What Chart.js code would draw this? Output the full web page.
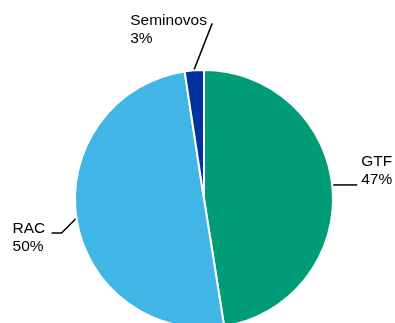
<!DOCTYPE html>
<html>
<head>
<meta charset="utf-8">
<script src="https://cdn.jsdelivr.net/npm/chart.js@4"></script>
<style>
  html, body { margin: 0; padding: 0; background: #fff; overflow: hidden; }
  #wrap { width: 395px; height: 335px; position: relative; }
</style>
</head>
<body>
<div id="wrap"><canvas id="pieChart"></canvas></div>
<script>
const categories = ['GTF', 'RAC', 'Seminovos'];
const shares = [47.5, 50.1, 2.4];
const shareLabels = ['47%', '50%', '3%'];
const sliceColors = ['#009B77', '#41B6E6', '#0033A0'];

// where the leader leaves the slice (fraction of its sweep), its bends and the text, relative to that point
const labelLayout = [
  { at: 0.49, bends: [[24, 0]], text: [28, -19] },
  { at: 0.5, bends: [[-14, 14], [-24, 14]], text: [-63, 14] },
  { at: 0.5, bends: [[18, -46]], text: [-64, -44.5] }
];

const leaderLabels = {
  id: 'leaderLabels',
  afterDraw(chart) {
    const ctx = chart.ctx;
    const arcs = chart.getDatasetMeta(0).data;
    ctx.save();
    ctx.font = '15.5px "Liberation Sans", Arial, sans-serif';
    ctx.fillStyle = '#000';
    ctx.strokeStyle = '#000';
    ctx.lineWidth = 1.5;
    arcs.forEach((arc, i) => {
      const p = arc.getProps(['x', 'y', 'startAngle', 'endAngle', 'outerRadius'], true);
      const lay = labelLayout[i];
      const a = p.startAngle + (p.endAngle - p.startAngle) * lay.at;
      const sx = p.x + Math.cos(a) * (p.outerRadius + 1);
      const sy = p.y + Math.sin(a) * (p.outerRadius + 1);
      ctx.beginPath();
      ctx.moveTo(sx, sy);
      lay.bends.forEach(b => ctx.lineTo(sx + b[0], sy + b[1]));
      ctx.stroke();
      const tx = sx + lay.text[0];
      const ty = sy + lay.text[1];
      ctx.fillText(categories[i], tx, ty);
      ctx.fillText(shareLabels[i], tx, ty + 18.5);
    });
    ctx.restore();
  }
};

new Chart(document.getElementById('pieChart'), {
  type: 'pie',
  data: {
    labels: categories,
    datasets: [{
      data: shares,
      backgroundColor: sliceColors,
      borderColor: '#fff',
      borderWidth: 2
    }]
  },
  options: {
    responsive: true,
    maintainAspectRatio: false,
    animation: false,
    layout: { padding: { top: 69, bottom: 6, left: 13, right: 0 } },
    plugins: {
      legend: { display: false },
      tooltip: { enabled: false }
    }
  },
  plugins: [leaderLabels]
});
</script>
</body>
</html>
